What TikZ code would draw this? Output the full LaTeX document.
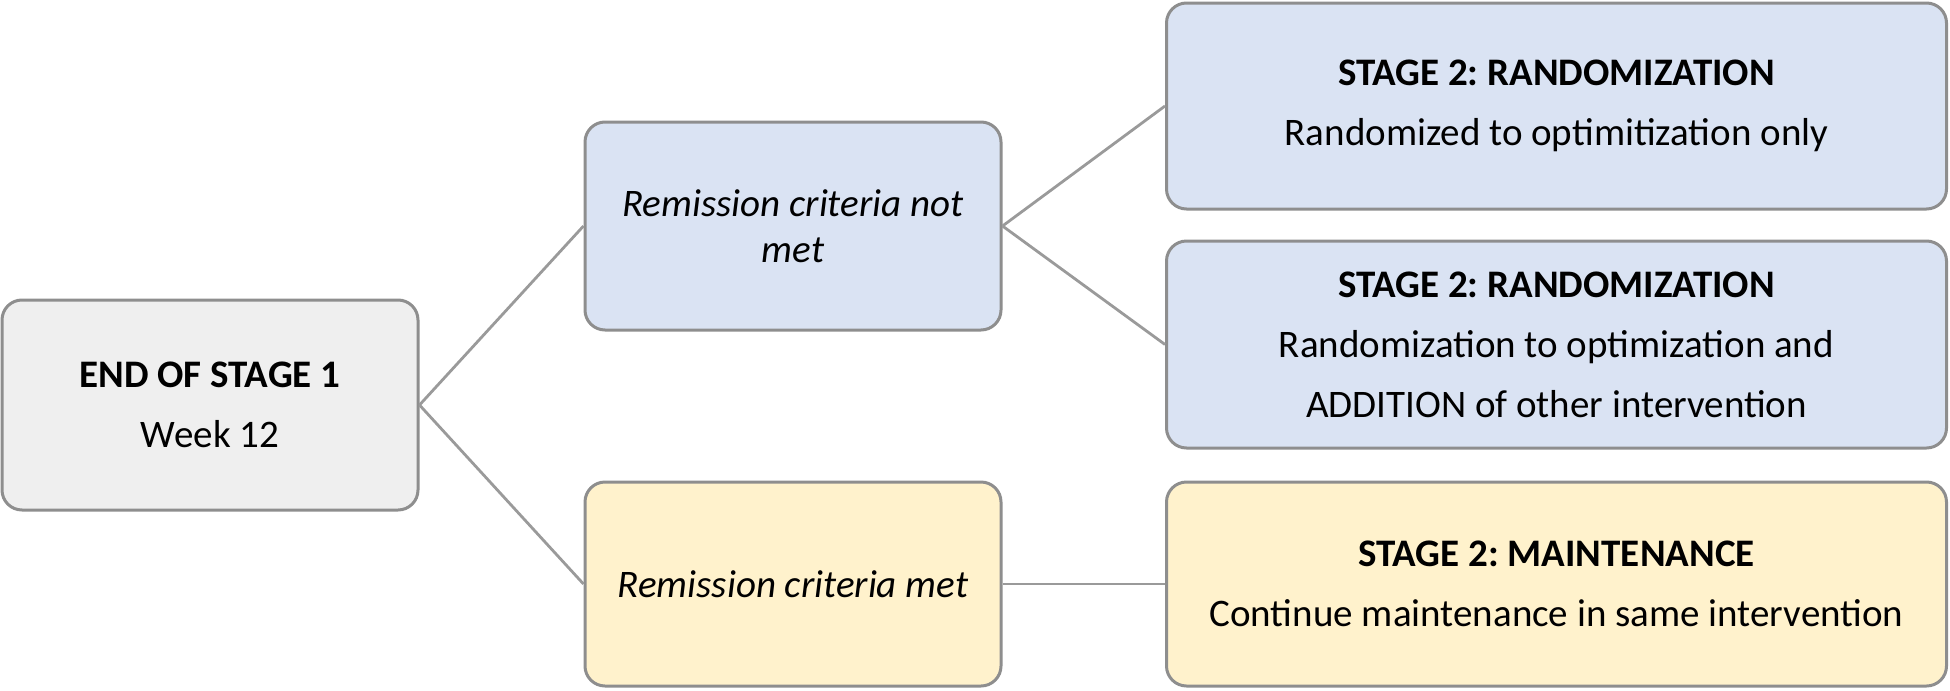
\documentclass[tikz,border=0pt]{standalone}
\usepackage{fontspec}
\setmainfont{Carlito}
\frenchspacing

\definecolor{boxgray}{HTML}{EFEFEF}
\definecolor{boxblue}{HTML}{DAE3F3}
\definecolor{boxyellow}{HTML}{FFF2CC}
\definecolor{bordergray}{HTML}{8E8E8E}
\definecolor{linkgray}{HTML}{9A9A9A}

\tikzset{
  stagebox/.style={rectangle,rounded corners=10pt,draw=bordergray,line width=1.5pt,
    align=center,inner sep=2pt,font=\fontsize{19.5}{30}\selectfont},
  smallbox/.style={stagebox,minimum width=208pt,minimum height=104pt},
  widebox/.style={stagebox,minimum width=390pt,minimum height=103pt},
  critbox/.style={smallbox,font=\fontsize{19.5}{23}\selectfont\itshape},
  link/.style={draw=linkgray,line width=1.4pt}
}

\begin{document}
\begin{tikzpicture}[x=1pt,y=1pt]
  \useasboundingbox (0,0) rectangle (975,-345.5);

  \node[smallbox,fill=boxgray,minimum height=105pt] (end1) at (105,-202.5)
    {\textbf{END OF STAGE 1}\\Week 12};
  \node[critbox,fill=boxblue] (notmet) at (396.5,-113) {Remission criteria not\\met};
  \node[critbox,fill=boxyellow,minimum height=102pt] (met) at (396.5,-292) {Remission criteria met};
  \node[widebox,fill=boxblue] (rand1) at (778.25,-53)
    {\textbf{STAGE 2: RANDOMIZATION}\\Randomized to optimitization only};
  \node[widebox,fill=boxblue,minimum height=103.5pt] (rand2) at (778.25,-172.25)
    {\textbf{STAGE 2: RANDOMIZATION}\\Randomization to optimization and\\ADDITION of other intervention};
  \node[widebox,fill=boxyellow,minimum height=102pt] (maint) at (778.25,-292)
    {\textbf{STAGE 2: MAINTENANCE}\\Continue maintenance in same intervention};

  \path[link]
    (end1.east) edge (notmet.west)
                edge (met.west)
    (notmet.east) edge (rand1.west)
                  edge (rand2.west)
    (met.east) edge (maint.west);

\end{tikzpicture}
\end{document}
